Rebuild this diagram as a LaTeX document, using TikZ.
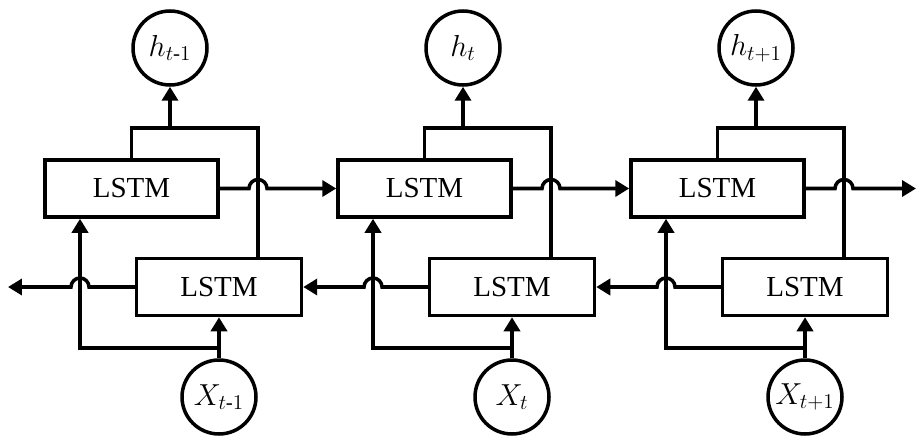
\documentclass[tikz,border=0pt]{standalone}
\usepackage{amsmath}
\usepackage{fontspec}
\setmainfont{Liberation Serif}
\usetikzlibrary{arrows.meta, calc}

\begin{document}
\begin{tikzpicture}[x=0.02cm,y=0.02cm,line width=2pt,
    >={Triangle[length=0.28cm,width=0.32cm]},
    lstm/.style={draw,rectangle,minimum height=1.14cm,font=\fontsize{16.5}{19}\selectfont},
    fwdbox/.style={lstm,minimum width=3.46cm},
    bwdbox/.style={lstm,minimum width=3.3cm},
    state/.style={draw,circle,minimum size=1.48cm,inner sep=0pt,font=\fontsize{17}{20}\selectfont}]
    \useasboundingbox (0,0) rectangle (918,440);
    %cells of each time step
    \foreach \i/\s in {0/{t\text{-}1},1/{t},2/{t+1}}{
        \pgfmathsetmacro{\dx}{293*\i}
        \node[fwdbox] (f\i) at (131.5+\dx,251.5) {LSTM};
        \node[bwdbox] (b\i) at (219+\dx,153) {LSTM};
        \node[state] (h\i) at (170+\dx,392) {$h_{\s}$};
        \node[state] (x\i) at (219+\dx,43) {$X_{\s}$};
        \coordinate (top\i) at (258+\dx,312); %bracket corner
        \coordinate (in\i) at (80+\dx,92); %input branch
        %outputs to h
        \draw (f\i.north) |- (top\i) -- (top\i |- b\i.north);
        \draw[->] (h\i |- top\i) -- (h\i);
        %inputs from X
        \draw[->] (x\i) -- (b\i);
        \draw[->] (x\i |- in\i) -- (in\i) -- (in\i |- f\i.south);
    }
    %forward and backward chains with hops
    \foreach \i/\j in {0/1,1/2}{
        \draw[->] (f\i.east) -- ($(top\i |- f\i.east)+(-9,0)$)
            arc[start angle=180,end angle=0,radius=0.18cm] -- (f\j.west);
        \draw[->] (b\j.west) -- ($(in\j |- b\j.west)+(9,0)$)
            arc[start angle=0,end angle=180,radius=0.18cm] -- (b\i.east);
    }
    \coordinate (fend) at (916,251.5);
    \coordinate (bend) at (8,153);
    \draw[->] (f2.east) -- ($(top2 |- f2.east)+(-9,0)$)
        arc[start angle=180,end angle=0,radius=0.18cm] -- (fend);
    \draw[->] (b0.west) -- ($(in0 |- b0.west)+(9,0)$)
        arc[start angle=0,end angle=180,radius=0.18cm] -- (bend);
\end{tikzpicture}
\end{document}
